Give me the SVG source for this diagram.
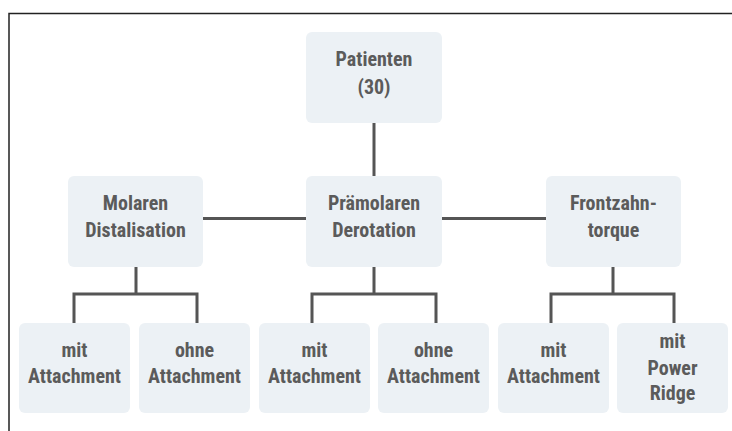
<svg xmlns="http://www.w3.org/2000/svg" width="732" height="431" viewBox="0 0 732 431">
<style>
.box{fill:#ecf1f5}
.t{font-family:"Liberation Sans Narrow","Roboto Condensed","Liberation Sans",sans-serif;font-weight:bold;font-size:20px;fill:#5b5b5b;text-anchor:middle}
.c{fill:none;stroke:#555;stroke-width:3}
</style>
<rect width="732" height="431" fill="#fff"/>
<path d="M9,431 V13.5 H732" fill="none" stroke="#222" stroke-width="1.5"/>
<g id="connectors">
<path class="c" d="M374,123 V177"/>
<path class="c" d="M203,218.5 H306 M442,218.5 H546"/>
<path class="c" d="M136,267 V294 M74,323 V294 H197 V323"/>
<path class="c" d="M374,267 V294 M312,323 V294 H436 V323"/>
<path class="c" d="M613,267 V294 M551,323 V294 H674 V323"/>
</g>
<g id="patienten"><rect class="box" x="306" y="32" width="136" height="91" rx="6"/><text class="t" x="374" y="66">Patienten</text><text class="t" x="374" y="94">(30)</text></g>
<g id="molaren"><rect class="box" x="68" y="176" width="135" height="91" rx="6"/><text class="t" x="135.5" y="210">Molaren</text><text class="t" x="135.5" y="237">Distalisation</text></g>
<g id="praemolaren"><rect class="box" x="306" y="176" width="136" height="91" rx="6"/><text class="t" x="374" y="210">Prämolaren</text><text class="t" x="374" y="237">Derotation</text></g>
<g id="frontzahn"><rect class="box" x="546" y="176" width="135" height="91" rx="6"/><text class="t" x="613.5" y="210">Frontzahn-</text><text class="t" x="613.5" y="237">torque</text></g>
<g id="mit1"><rect class="box" x="19" y="323" width="111" height="90" rx="6"/><text class="t" x="74.5" y="357">mit</text><text class="t" x="74.5" y="383">Attachment</text></g>
<g id="ohne1"><rect class="box" x="139" y="323" width="111" height="90" rx="6"/><text class="t" x="194.5" y="357">ohne</text><text class="t" x="194.5" y="383">Attachment</text></g>
<g id="mit2"><rect class="box" x="259" y="323" width="111" height="90" rx="6"/><text class="t" x="314.5" y="357">mit</text><text class="t" x="314.5" y="383">Attachment</text></g>
<g id="ohne2"><rect class="box" x="378" y="323" width="111" height="90" rx="6"/><text class="t" x="433.5" y="357">ohne</text><text class="t" x="433.5" y="383">Attachment</text></g>
<g id="mit3"><rect class="box" x="498" y="323" width="111" height="90" rx="6"/><text class="t" x="553.5" y="357">mit</text><text class="t" x="553.5" y="383">Attachment</text></g>
<g id="power"><rect class="box" x="617" y="323" width="111" height="90" rx="6"/><text class="t" x="672.5" y="348">mit</text><text class="t" x="672.5" y="375">Power</text><text class="t" x="672.5" y="400">Ridge</text></g>
</svg>
